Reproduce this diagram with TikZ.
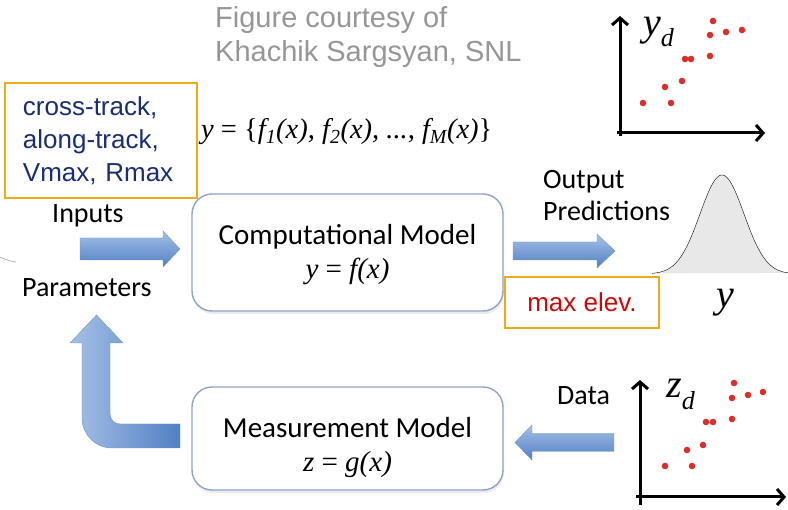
\documentclass[tikz,border=0pt]{standalone}
\usepackage{fontspec}
\setmainfont{Carlito}
\newfontfamily\arialfont{Liberation Sans}
\newfontfamily\timesfont{Liberation Serif}
\usetikzlibrary{arrows.meta,shadows}
\definecolor{boxedge}{RGB}{140,165,205}
\definecolor{tagedge}{RGB}{240,170,20}
\definecolor{navytext}{RGB}{25,45,115}
\definecolor{redtext}{RGB}{200,10,10}
\definecolor{greytext}{RGB}{150,150,150}
\definecolor{arrowlight}{RGB}{165,192,230}
\definecolor{arrowdark}{RGB}{82,128,196}
\definecolor{arrowedge}{RGB}{115,150,200}
\definecolor{dotcol}{RGB}{220,45,45}
\tikzstyle{modelbox}=[draw=boxedge,line width=1.4pt,rounded corners=20,fill=white,minimum width=311,
  drop shadow={opacity=0.15,shadow xshift=1pt,shadow yshift=-3pt}]
\tikzstyle{modeltext}=[align=center,font=\fontsize{29}{34}\selectfont]
\tikzstyle{tagbox}=[draw=tagedge,line width=2pt,font=\arialfont\fontsize{26}{33}\selectfont]
\tikzstyle{blockarrow}=[draw=arrowedge,top color=arrowlight,bottom color=arrowdark]
\tikzstyle{calibri}=[font=\fontsize{28}{32}\selectfont,inner sep=0,anchor=base west]
\tikzstyle{axis}=[line width=3pt,-{Straight Barb[length=7pt,width=16pt]}]
\def\dotr{3.3}
\newcommand{\tmi}{\timesfont\itshape}

\begin{document}
\begin{tikzpicture}[x=1pt,y=-1pt]
  \useasboundingbox (0,0) rectangle (788,510);

  % CREDIT (base = last line)
  \node[font=\arialfont\fontsize{29}{34}\selectfont,text=greytext,inner sep=0,anchor=base west,align=left]
    (credit) at (215,62) {Figure courtesy of\\Khachik Sargsyan, SNL};

  % INPUT PARAMETERS
  \node[tagbox,text=navytext,minimum width=192,minimum height=115,text width=156,align=left]
    (inputtag) at (101,140.5) {cross-track,\\along-track,\\Vmax, Rmax};
  \node[inner sep=0,anchor=base west,font=\fontsize{28.5}{28}\selectfont] (ensemble) at (201,139)
    {\tmi y \upshape= \{\itshape f\textsubscript{1}(x), f\textsubscript{2}(x), ..., f\textsubscript{M}(x)\upshape\}};
  \node[calibri] (inputs) at (52,223) {Inputs};
  \node[calibri] (params) at (22,297) {Parameters};
  \draw[gray,thin] (0,257) to[bend right=8] (16,262);

  % MODELS
  \node[modelbox,minimum height=117] (comp) at (347.5,252.5) {};
  \node[modeltext] (comptext) at ([yshift=-2pt]comp.center)
    {Computational Model\\{\tmi y \upshape= \itshape f(x)}};
  \node[modelbox,minimum height=103] (meas) at (347.5,438.5) {};
  \node[modeltext] (meastext) at ([yshift=-9pt]meas.center)
    {Measurement Model\\{\tmi z \upshape= \itshape g(x)}};

  % BLOCK ARROWS
  \coordinate (inA) at (80,249);
  \coordinate (outA) at (513,251);
  \coordinate (dataA) at (614,442.5);
  \path[blockarrow] (inA) ++(0,-11) -- ++(83,0) -- ++(0,-7) -- ++(17,18) -- ++(-17,18) -- ++(0,-7) -- ++(-83,0) -- cycle;
  \path[blockarrow] (outA) ++(0,-9) -- ++(84,0) -- ++(0,-8) -- ++(18,17) -- ++(-18,17) -- ++(0,-8) -- ++(-84,0) -- cycle;
  \path[blockarrow] (dataA) ++(0,-9) -- ++(-82,0) -- ++(0,-8.5) -- ++(-17,17.5) -- ++(17,17.5) -- ++(0,-8.5) -- ++(82,0) -- cycle;
  \path[draw=arrowedge,left color=arrowlight,right color=arrowdark]
    (180,424) -- (120,424) arc[start angle=90,end angle=180,radius=10] -- (110,343) -- (123,343)
    -- (96.5,315) -- (70,343) -- (82,343) -- (82,418) arc[start angle=180,end angle=90,radius=30]
    -- (180,448) -- cycle;

  % OUTPUT (base = last line)
  \node[calibri,align=left] (output) at (543,221) {Output\\Predictions};
  \fill[gray!18] plot[domain=652:788,samples=90] (\x,{274-99*exp(-((\x-722)/22)^2/2)}) -- cycle;
  \draw[thin] plot[domain=652:788,samples=90] (\x,{274-99*exp(-((\x-722)/22)^2/2)});
  \node[inner sep=0,anchor=base,font=\fontsize{40}{40}\tmi] (ylabel) at (725,308) {y};
  \node[tagbox,text=redtext,minimum width=154,minimum height=51] (maxelev) at (582,302.5) {max elev.};

  % DATA
  \node[calibri] (data) at (557,405) {Data};
  \draw[axis] (620,136) -- (620,16);
  \draw[axis] (617,133) -- (765,133);
  \node[inner sep=0,anchor=base west,font=\fontsize{40}{40}\tmi] (yd) at (643,36)
    {y\raisebox{-11pt}{\fontsize{26}{26}\selectfont d}};
  \foreach \px/\py in {713/21,710/35,726/32,742/30,685/59,691/59,710/56,682/81,665/87,643/103,671/103}
    \fill[dotcol] (\px,\py) circle (\dotr);
  \draw[axis] (640,505) -- (640,380);
  \draw[axis] (636,497) -- (786,497);
  \node[inner sep=0,anchor=base west,font=\fontsize{40}{40}\tmi] (zd) at (666,398)
    {z\raisebox{-12pt}{\fontsize{26}{26}\selectfont d}};
  \foreach \px/\py in {734/383,732/398,748/395,763/392,706/422,713/422,732/419,703/445,687/450,665/466,692/466}
    \fill[dotcol] (\px,\py) circle (\dotr);

\end{tikzpicture}
\end{document}
